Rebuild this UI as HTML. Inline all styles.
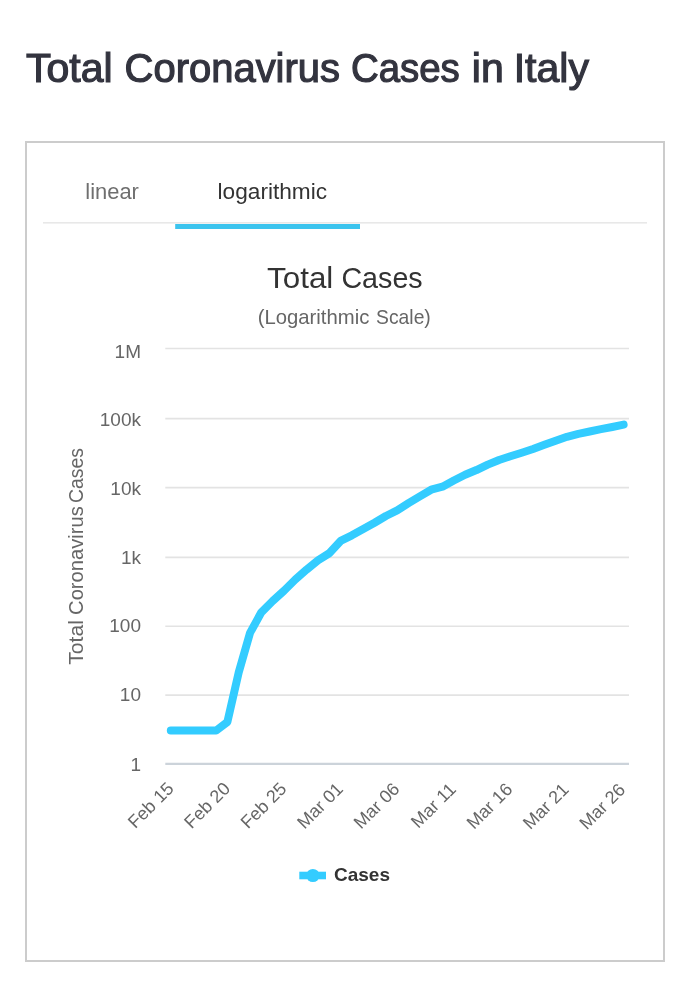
<!DOCTYPE html>
<html><head><meta charset="utf-8"><title>Total Coronavirus Cases in Italy</title>
<style>
html,body{margin:0;padding:0;background:#fff;width:688px;height:1000px;overflow:hidden;}
body{font-family:"Liberation Sans",Arial,sans-serif;position:relative;}
svg{position:absolute;left:0;top:0;will-change:transform;font-family:"Liberation Sans",Arial,sans-serif;}
.yl{font-size:19px;fill:#666;}
.xl{font-size:18px;fill:#666;}
</style></head><body>
<svg width="688" height="1000" viewBox="0 0 688 1000">
<g style="font-size:41px;fill:#33343f;stroke:#33343f;stroke-width:1.2px">
<text x="26" y="82.2">Total</text>
<text x="124.6" y="82.2" textLength="215.4" lengthAdjust="spacingAndGlyphs">Coronavirus</text>
<text x="351" y="82.2" textLength="108.8" lengthAdjust="spacingAndGlyphs">Cases</text>
<text x="471.8" y="82.2">in</text>
<text x="513.7" y="82.2">Italy</text>
</g>
<rect x="26" y="142" width="638" height="819" fill="none" stroke="#cccccc" stroke-width="2"/>
<rect x="43" y="222" width="604" height="1.6" fill="#e8e8e8"/>
<rect x="175.2" y="224" width="184.8" height="5" fill="#3cc4ee"/>
<text x="85.3" y="199.2" style="font-size:21.3px;fill:#6f6f6f" textLength="53.6" lengthAdjust="spacingAndGlyphs">linear</text>
<text x="217.6" y="199.2" style="font-size:21.3px;fill:#333" textLength="109.5" lengthAdjust="spacingAndGlyphs">logarithmic</text>
<g style="font-size:30.3px;fill:#333"><text x="267.1" y="288.4" textLength="66.2" lengthAdjust="spacingAndGlyphs">Total</text><text x="341.4" y="288.4" textLength="81.3" lengthAdjust="spacingAndGlyphs">Cases</text></g>
<g style="font-size:20.3px;fill:#666"><text x="257.7" y="323.9">(Logarithmic</text><text x="376.1" y="323.9" textLength="54.7" lengthAdjust="spacingAndGlyphs">Scale)</text></g>
<path d="M 165.3 763.90 L 629 763.90" stroke="#ccd3da" stroke-width="2.2" fill="none"/>
<text x="141" y="771.20" text-anchor="end" class="yl">1</text>
<path d="M 165.3 695.10 L 629 695.10" stroke="#e3e3e3" stroke-width="1.6" fill="none"/>
<text x="141" y="701.20" text-anchor="end" class="yl">10</text>
<path d="M 165.3 626.30 L 629 626.30" stroke="#e3e3e3" stroke-width="1.6" fill="none"/>
<text x="141" y="632.40" text-anchor="end" class="yl">100</text>
<path d="M 165.3 557.40 L 629 557.40" stroke="#e3e3e3" stroke-width="1.6" fill="none"/>
<text x="141" y="563.80" text-anchor="end" class="yl">1k</text>
<path d="M 165.3 487.60 L 629 487.60" stroke="#e3e3e3" stroke-width="1.6" fill="none"/>
<text x="141" y="495.00" text-anchor="end" class="yl">10k</text>
<path d="M 165.3 418.60 L 629 418.60" stroke="#e3e3e3" stroke-width="1.6" fill="none"/>
<text x="141" y="425.90" text-anchor="end" class="yl">100k</text>
<path d="M 165.3 348.50 L 629 348.50" stroke="#e3e3e3" stroke-width="1.6" fill="none"/>
<text x="141" y="358.10" text-anchor="end" class="yl">1M</text>

<text x="174.80" y="789.60" text-anchor="end" transform="rotate(-45 174.80 789.60)" class="xl">Feb 15</text>
<text x="231.25" y="789.75" text-anchor="end" transform="rotate(-45 231.25 789.75)" class="xl">Feb 20</text>
<text x="287.70" y="789.90" text-anchor="end" transform="rotate(-45 287.70 789.90)" class="xl">Feb 25</text>
<text x="344.15" y="790.05" text-anchor="end" transform="rotate(-45 344.15 790.05)" class="xl">Mar 01</text>
<text x="400.60" y="790.20" text-anchor="end" transform="rotate(-45 400.60 790.20)" class="xl">Mar 06</text>
<text x="457.05" y="790.35" text-anchor="end" transform="rotate(-45 457.05 790.35)" class="xl">Mar 11</text>
<text x="513.50" y="790.50" text-anchor="end" transform="rotate(-45 513.50 790.50)" class="xl">Mar 16</text>
<text x="569.95" y="790.65" text-anchor="end" transform="rotate(-45 569.95 790.65)" class="xl">Mar 21</text>
<text x="626.40" y="790.80" text-anchor="end" transform="rotate(-45 626.40 790.80)" class="xl">Mar 26</text>

<g transform="translate(83 0) rotate(-90)" style="font-size:20px;fill:#666"><text x="-664.7" y="0" textLength="44.5" lengthAdjust="spacingAndGlyphs">Total</text><text x="-614.9" y="0" textLength="108.6" lengthAdjust="spacingAndGlyphs">Coronavirus</text><text x="-503.1" y="0" textLength="55.2" lengthAdjust="spacingAndGlyphs">Cases</text></g>
<path d="M 170.80 730.57 L 182.12 730.57 L 193.44 730.57 L 204.76 730.57 L 216.08 730.57 L 227.40 721.98 L 238.72 672.43 L 250.04 632.84 L 261.36 612.30 L 272.68 601.01 L 284.00 590.72 L 295.32 579.49 L 306.64 569.56 L 317.96 560.42 L 329.28 553.25 L 340.60 540.92 L 351.92 535.35 L 363.24 529.10 L 374.56 522.71 L 385.88 515.97 L 397.20 510.40 L 408.52 503.18 L 419.84 496.33 L 431.16 489.72 L 442.48 486.66 L 453.80 480.50 L 465.12 474.72 L 476.44 470.06 L 487.76 464.64 L 499.08 459.95 L 510.40 456.27 L 521.72 452.71 L 533.04 448.95 L 544.36 444.79 L 555.68 440.71 L 567.00 436.80 L 578.32 433.84 L 589.64 431.51 L 600.96 429.14 L 612.28 426.97 L 623.60 424.57" stroke="#33ccff" stroke-width="8" fill="none" stroke-linecap="round" stroke-linejoin="round"/>
<path d="M 299.3 875.5 L 326 875.5" stroke="#33ccff" stroke-width="7.6" fill="none"/>
<circle cx="312.9" cy="875.5" r="6.6" fill="#33ccff"/>
<text x="334" y="881.1" style="font-size:19px;font-weight:bold;fill:#333">Cases</text>
</svg>
</body></html>
